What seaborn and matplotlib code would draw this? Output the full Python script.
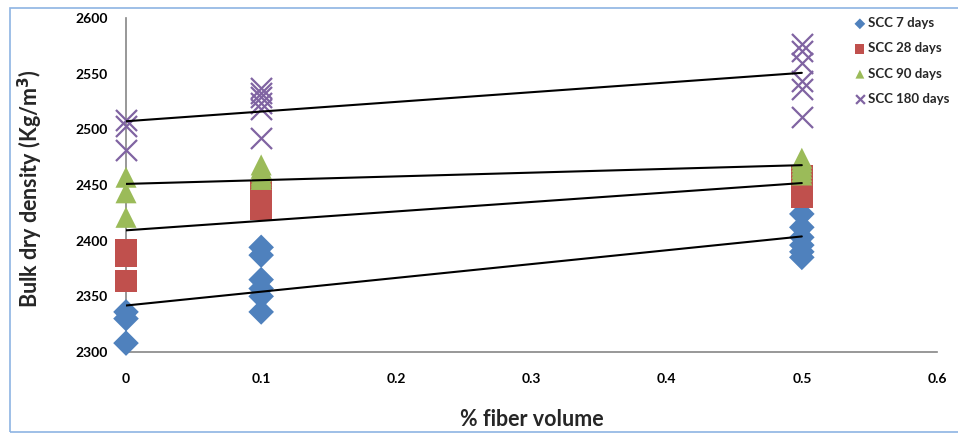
import pandas as pd
import numpy as np
import matplotlib
matplotlib.use("Agg")
import matplotlib.pyplot as plt
from matplotlib.patches import Rectangle
import seaborn as sns

# values (kg/m3) per curing age and fiber volume
fiber = [0.0, 0.1, 0.5]
scc_7 = [[2336, 2330, 2308],
         [2394, 2387, 2365, 2357, 2350, 2336],
         [2424, 2412, 2403, 2396, 2390, 2385]]
scc_28 = [[2392, 2386, 2364],
          [2444, 2440, 2437, 2434, 2431, 2428],
          [2458, 2454, 2450, 2446, 2442, 2439]]
scc_90 = [[2457, 2443, 2421],
          [2468, 2465, 2462, 2459, 2457, 2455],
          [2474, 2471, 2468, 2465, 2462, 2459]]
scc_180 = [[2508, 2503, 2481],
           [2537, 2533, 2529, 2524, 2518, 2492],
           [2577, 2570, 2560, 2543, 2536, 2511]]
series_names = ["SCC 7 days", "SCC 28 days", "SCC 90 days", "SCC 180 days"]
x_ticks = [0, 0.1, 0.2, 0.3, 0.4, 0.5, 0.6]
x_labels = ["0", "0.1", "0.2", "0.3", "0.4", "0.5", "0.6"]
y_ticks = [2300, 2350, 2400, 2450, 2500, 2550, 2600]

rows = []
for name, groups in zip(series_names, [scc_7, scc_28, scc_90, scc_180]):
    for fv, vals in zip(fiber, groups):
        for v in vals:
            rows.append({"fiber": fv, "density": v, "series": name})
df = pd.DataFrame(rows)

sns.set_theme(style="white")
plt.rcParams["font.family"] = ["Lato", "DejaVu Sans"]
plt.rcParams["font.weight"] = "bold"

colors = {"SCC 7 days": "#4F81BD", "SCC 28 days": "#C0504D",
          "SCC 90 days": "#9BBB59", "SCC 180 days": "#8064A2"}
markers = {"SCC 7 days": "D", "SCC 28 days": "s",
           "SCC 90 days": "^", "SCC 180 days": "X"}
sizes = {"SCC 7 days": 170, "SCC 28 days": 240,
         "SCC 90 days": 230, "SCC 180 days": 230}

fig = plt.figure(figsize=(9.58, 4.34), dpi=100)
ax = fig.add_axes([126/958, 1-352/434, (937-126)/958, (352-18)/434])

for name in series_names:
    sub = df[df["series"] == name]
    if markers[name] == "X":
        ax.scatter(sub["fiber"], sub["density"], marker="x", s=sizes[name],
                   color=colors[name], linewidths=1.6, label=name, zorder=2,
                   clip_on=False)
    else:
        sns.scatterplot(data=sub, x="fiber", y="density", marker=markers[name],
                        s=sizes[name], color=colors[name], edgecolor="none",
                        label=name, ax=ax, zorder=2, clip_on=False)

for name in series_names:
    sub = df[df["series"] == name]
    sns.regplot(data=sub, x="fiber", y="density", scatter=False, ci=None,
                truncate=True, color="black", line_kws={"lw": 1.5, "zorder": 3}, ax=ax)

ax.set_xlim(0, 0.6)
ax.set_ylim(2300, 2600)
ax.set_xticks(x_ticks)
ax.set_xticklabels(x_labels)
ax.set_yticks(y_ticks)
for s in ["top", "right"]:
    ax.spines[s].set_visible(False)
for s in ["left", "bottom"]:
    ax.spines[s].set_color("#868686")
    ax.spines[s].set_linewidth(1.2)
    ax.spines[s].set_zorder(1)
ax.tick_params(axis="both", direction="out", length=5, width=1, color="#868686",
               labelsize=10, labelcolor="black")
ax.tick_params(axis="x", pad=10)
ax.tick_params(axis="y", pad=8)
for lab in ax.get_xticklabels() + ax.get_yticklabels():
    lab.set_fontweight("bold")

ax.set_xlabel("% fiber volume", fontsize=15.5, fontweight="bold")
ax.set_ylabel("Bulk dry density (Kg/m$^{\\mathbf{3}}$)", fontsize=15.5, fontweight="bold")
ax.xaxis.set_label_coords(0.5, -0.17)
ax.yaxis.set_label_coords(-0.1, 0.49)

handles, labels = ax.get_legend_handles_labels()
ax.legend(handles[:4], labels[:4], loc="upper left",
          bbox_to_anchor=(848/958, 1-12/434), bbox_transform=fig.transFigure,
          frameon=False, markerscale=0.42, handletextpad=0.1, handlelength=1.0,
          labelspacing=1.0, borderaxespad=0, prop={"weight": "bold", "size": 9.5})

fig.patches.append(Rectangle((10/958, 2/434), 1.0, 1-10/434, transform=fig.transFigure,
                             fill=False, edgecolor="#8EB4E3", lw=1.2))

fig.savefig("out.png", dpi=100)
